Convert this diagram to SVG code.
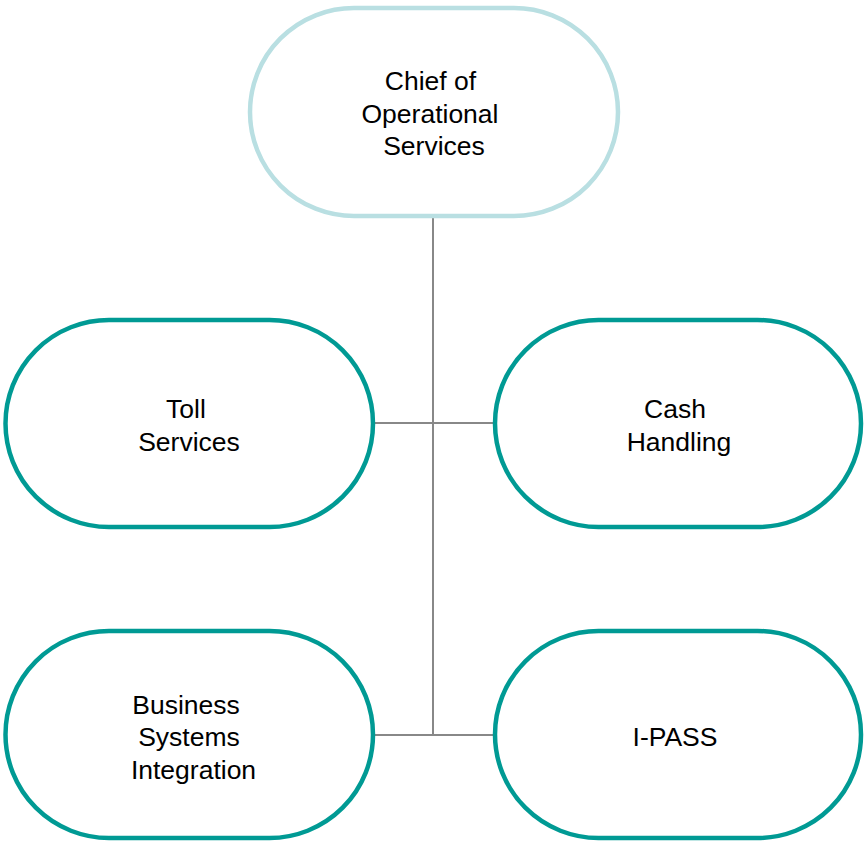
<svg xmlns="http://www.w3.org/2000/svg" width="865" height="842" viewBox="0 0 865 842">
<style>
.node{fill:#fff;stroke:#009a94;stroke-width:4.5}
.top{fill:#fff;stroke:#b9dfe2;stroke-width:4.5}
.lbl{font-family:"Liberation Sans",Arial,sans-serif;font-size:26.5px;fill:#000;text-anchor:middle}
.conn{stroke:#888;stroke-width:2;fill:none}
</style>
<rect width="865" height="842" fill="#fff"/>
<g id="connectors">
<line class="conn" x1="433" y1="216" x2="433" y2="735"/>
<line class="conn" x1="373" y1="423" x2="495" y2="423"/>
<line class="conn" x1="373" y1="735" x2="495" y2="735"/>
</g>
<g id="chief">
<rect class="top" x="250" y="8" width="368" height="208" rx="104"/>
<text class="lbl"><tspan x="430.5" y="90">Chief of</tspan><tspan x="430" y="123">Operational</tspan><tspan x="434" y="155">Services</tspan></text>
</g>
<g id="toll">
<rect class="node" x="5.5" y="320" width="367.5" height="207" rx="103.5"/>
<text class="lbl"><tspan x="186" y="418">Toll</tspan><tspan x="189" y="451">Services</tspan></text>
</g>
<g id="cash">
<rect class="node" x="495" y="320" width="366" height="207" rx="103.5"/>
<text class="lbl"><tspan x="675" y="418">Cash</tspan><tspan x="679" y="451">Handling</tspan></text>
</g>
<g id="business">
<rect class="node" x="5.5" y="631" width="367.5" height="207" rx="103.5"/>
<text class="lbl"><tspan x="186" y="714">Business</tspan><tspan x="189" y="746">Systems</tspan><tspan x="193.5" y="779">Integration</tspan></text>
</g>
<g id="ipass">
<rect class="node" x="495" y="631" width="366" height="207" rx="103.5"/>
<text class="lbl"><tspan x="675" y="746">I-PASS</tspan></text>
</g>
</svg>
